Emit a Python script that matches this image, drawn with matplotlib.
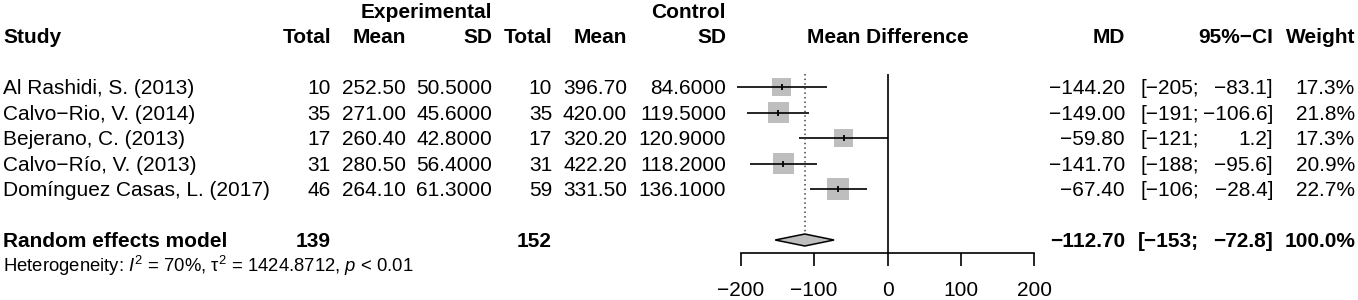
#!/usr/bin/env python3
"""Forest plot of mean differences (experimental vs control), random effects model."""

import numpy as np
import matplotlib
matplotlib.use("Agg")
import matplotlib.pyplot as plt

plt.rcParams["font.family"] = ["Liberation Sans", "DejaVu Sans"]
plt.rcParams["mathtext.fontset"] = "custom"
plt.rcParams["mathtext.rm"] = "Liberation Sans"
plt.rcParams["mathtext.it"] = "Liberation Sans:italic"
plt.rcParams["mathtext.bf"] = "Liberation Sans:bold"

# -- data ---------------------------------------------------------------------
studies = ["Al Rashidi, S. (2013)", "Calvo-Rio, V. (2014)", "Bejerano, C. (2013)",
           "Calvo-Río, V. (2013)", "Domínguez Casas, L. (2017)"]
n_exp = [10, 35, 17, 31, 46]
mean_exp = [252.50, 271.00, 260.40, 280.50, 264.10]
sd_exp = [50.5, 45.6, 42.8, 56.4, 61.3]
n_ctl = [10, 35, 17, 31, 59]
mean_ctl = [396.70, 420.00, 320.20, 422.20, 331.50]
sd_ctl = [84.6, 119.5, 120.9, 118.2, 136.1]
md = [-144.20, -149.00, -59.80, -141.70, -67.40]
ci_lo = [-205, -191, -121, -188, -106]
ci_hi = [-83.1, -106.6, 1.2, -95.6, -28.4]
weight = [17.3, 21.8, 17.3, 20.9, 22.7]

pooled_md = -112.70
pooled_lo = -153
pooled_hi = -72.8
tot_exp = 139
tot_ctl = 152
het_text = r"Heterogeneity: $I^2$ = 70%, τ$^2$ = 1424.8712, $p$ < 0.01"

x_ticks = [-200, -100, 0, 100, 200]

# -- layout (pixel grid of the 1358x300 canvas) ------------------------------
W, H = 1358, 300
row_px = 25.5          # vertical distance between rows
row0_px = 87.0         # centre of first study row
y_bottom = (H - row0_px) / row_px
y_top = -row0_px / row_px
sum_row = 6
het_row = 7
axis_row = 6.51
FS = 15
BASE = 0.28            # baseline offset so text is centred on the row

grey = "#BEBEBE"


def minus(s):
    return s.replace("-", "\u2212")


fig = plt.figure(figsize=(W / 100, H / 100), dpi=100)

# table part
tab = fig.add_axes([0, 0, 1, 1])
tab.set_xlim(0, W)
tab.set_ylim(y_bottom, y_top)
tab.axis("off")


def put(x, row, s, ha="right", bold=False, fs=FS):
    tab.text(x, row + BASE, minus(s), ha=ha, va="baseline", fontsize=fs,
             fontweight="bold" if bold else "normal")


x_study, x_ne, x_me, x_sde = 3, 331, 406, 492
x_nc, x_mc, x_sdc = 552, 627, 726
x_md, x_cil, x_cih, x_w = 1125, 1199, 1273, 1355

# headers
put(x_sde, -3, "Experimental", bold=True)
put(x_sdc, -3, "Control", bold=True)
put(x_study, -2, "Study", ha="left", bold=True)
for x, s in [(x_ne, "Total"), (x_me, "Mean"), (x_sde, "SD"), (x_nc, "Total"),
             (x_mc, "Mean"), (x_sdc, "SD"), (x_md, "MD"), (x_cih, "95%-CI"),
             (x_w, "Weight")]:
    put(x, -2, s, bold=True)
put(887.7, -2, "Mean Difference", ha="center", bold=True)

# study rows
for i in range(len(studies)):
    put(x_study, i, studies[i], ha="left")
    put(x_ne, i, f"{n_exp[i]}")
    put(x_me, i, f"{mean_exp[i]:.2f}")
    put(x_sde, i, f"{sd_exp[i]:.4f}")
    put(x_nc, i, f"{n_ctl[i]}")
    put(x_mc, i, f"{mean_ctl[i]:.2f}")
    put(x_sdc, i, f"{sd_ctl[i]:.4f}")
    put(x_md, i, f"{md[i]:.2f}")
    put(x_cil, i, f"[{ci_lo[i]:.0f};")
    put(x_cih, i, f"{ci_hi[i]:.1f}]")
    put(x_w, i, f"{weight[i]:.1f}%")

# summary row
put(x_study, sum_row, "Random effects model", ha="left", bold=True)
put(x_ne, sum_row, f"{tot_exp}", bold=True)
put(x_nc, sum_row, f"{tot_ctl}", bold=True)
put(x_md, sum_row, f"{pooled_md:.2f}", bold=True)
put(x_cil, sum_row, f"[{pooled_lo:.0f};", bold=True)
put(x_cih, sum_row, f"{pooled_hi:.1f}]", bold=True)
put(x_w, sum_row, f"{100:.1f}%", bold=True)
tab.text(x_study, het_row + 0.26, het_text, ha="left", va="baseline", fontsize=13.3)

# forest part
fx = fig.add_axes([740.7 / W, 0, 293.6 / W, 1])
fx.set_xlim(-200, 200)
fx.set_ylim(y_bottom, y_top)
fx.patch.set_visible(False)

rows = np.arange(len(studies))
side_pt = 4.5 * np.sqrt(weight) * 0.72
fx.scatter(md, rows, s=side_pt ** 2, marker="s", color=grey, linewidths=0,
           zorder=1, clip_on=False)
fx.hlines(rows, ci_lo, ci_hi, color="black", lw=1.2, zorder=2, clip_on=False)
fx.scatter(md, rows, s=16, marker="|", color="black", linewidths=1.3, zorder=3,
           clip_on=False)

dh = 6 / row_px
fx.vlines(0, -0.51, axis_row, color="black", lw=1.2, clip_on=False)
fx.vlines(pooled_md, -0.51, sum_row - dh, color="#444444", lw=1.1,
          linestyles=(0, (1, 2)), clip_on=False)
fx.fill([pooled_lo, pooled_md, pooled_hi, pooled_md],
        [sum_row, sum_row - dh, sum_row, sum_row + dh],
        facecolor=grey, edgecolor="black", lw=1.1, zorder=3, clip_on=False)

for s in ["left", "right", "top"]:
    fx.spines[s].set_visible(False)
fx.spines["bottom"].set_position(("data", axis_row))
fx.spines["bottom"].set_bounds(-200, 200)
fx.spines["bottom"].set_linewidth(1.2)
fx.set_yticks([])
fx.set_xticks(x_ticks)
fx.tick_params(axis="x", direction="out", length=9.4, width=1.2,
               labelsize=FS, pad=11)

fig.savefig("out.png", dpi=100)
plt.close(fig)
